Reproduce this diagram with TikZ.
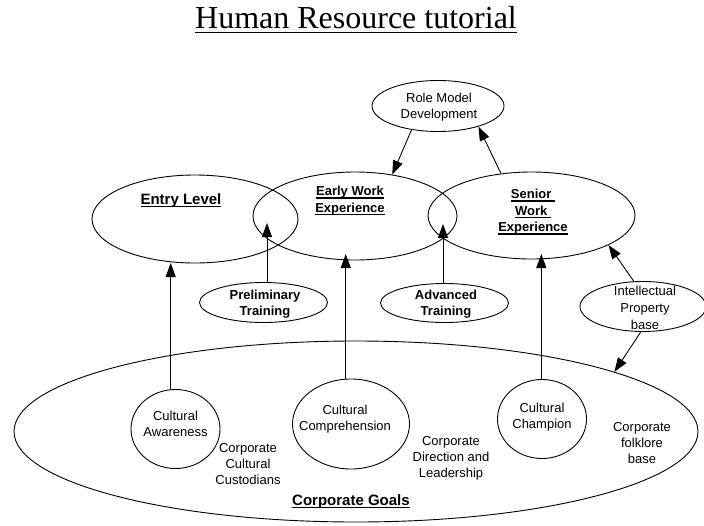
\documentclass[tikz,border=0pt]{standalone}
\usepackage{fontspec}
\setmainfont{Liberation Serif}
\newfontfamily\arial{Liberation Sans}
\usetikzlibrary{shapes.geometric,arrows.meta}
% thick underline drawn under a box of text
\newcommand\undl[2][-3pt]{\leavevmode\setbox0\hbox{#2}\rlap{\rule[#1]{\wd0}{1.5pt}}\box0}
\begin{document}
\begin{tikzpicture}[x=1pt,y=-1pt,
  oval/.style={draw,ellipse,line width=0.9pt,inner sep=0pt},
  lbl/.style={font=\arial\fontsize{13}{16}\selectfont,align=center,inner sep=0pt},
  blbl/.style={font=\arial\bfseries\fontsize{13}{16.5}\selectfont,align=center,inner sep=0pt},
  arr/.style={-{Triangle[length=14pt,width=10pt]},line width=0.9pt}]
\useasboundingbox (0,0) rectangle (704,525);

% title
\node[anchor=base,inner sep=0pt,font=\fontsize{32}{38}\selectfont] (title) at (356,28)
  {\undl[-5pt]{Human Resource tutorial}};

% outer goal ellipse and its regions
\node[oval,minimum width=684pt,minimum height=181pt] (goals) at (356,431.5) {};
\node[anchor=base,inner sep=0pt,font=\arial\bfseries\fontsize{15}{18}\selectfont] (goalst) at (351,505) {\undl{Corporate Goals}};

% career stages
\node[oval,minimum width=206pt,minimum height=88pt] (entry) at (195,219) {};
\node[oval,minimum width=204pt,minimum height=88pt] (early) at (355,216) {};
\node[oval,minimum width=207pt,minimum height=87pt] (senior) at (531.5,215.5) {};
\node[anchor=base,inner sep=0pt,font=\arial\bfseries\fontsize{15}{18}\selectfont] (entryt) at (181,204) {\undl{Entry Level}};
\node[blbl] (earlyt) at (350,201) {\undl{Early Work}\\\undl{Experience}};
\node[blbl] (seniort) at (533,212) {\undl{Senior }\\\undl{Work }\\\undl{Experience}};

% role model
\node[oval,minimum width=132pt,minimum height=51pt] (role) at (438,106) {};
\node[lbl] (rolet) at (439,107) {Role Model\\Development};

% training
\node[oval,minimum width=128pt,minimum height=40pt] (pre) at (263.5,302.5) {};
\node[blbl] (pret) at (265,304) {Preliminary\\Training};
\node[oval,minimum width=128pt,minimum height=39pt] (adv) at (444.5,303) {};
\node[blbl] (advt) at (446,304) {Advanced\\Training};

% intellectual property
\node[oval,minimum width=126pt,minimum height=50pt] (ip) at (643,306.5) {};
\node[font=\arial\fontsize{13}{17}\selectfont,align=center,inner sep=0pt] (ipt) at (645,308) {Intellectual\\Property\\base};

% cultural roles
\node[oval,minimum width=89pt,minimum height=79pt] (ca) at (175.5,429) {};
\node[lbl] (cat) at (175.5,424) {Cultural\\Awareness};
\node[oval,minimum width=117pt,minimum height=90pt] (cc) at (351,424) {};
\node[lbl] (cct) at (345,419) {Cultural\\Comprehension};
\node[oval,minimum width=89pt,minimum height=79pt] (cch) at (542,419) {};
\node[lbl] (ccht) at (542,417) {Cultural\\Champion};

% free texts
\node[lbl] (cust) at (248,464) {Corporate\\Cultural\\Custodians};
\node[lbl] (dir) at (451,458) {Corporate\\Direction and\\Leadership};
\node[lbl] (folk) at (642,443) {Corporate\\folklore\\base};

% arrow tips on the stage ellipses
\coordinate (tipA) at (170.7,263);
\coordinate (tipB) at (267,223);
\coordinate (tipC) at (345.7,254);
\coordinate (tipD) at (443,224);
\coordinate (tipE) at (541.3,254);

\draw[arr] (ca.north -| tipA) -- (tipA);
\draw[arr] (pre.north -| tipB) -- (tipB);
\draw[arr] (cc.north -| tipC) -- (tipC);
\draw[arr] (adv.north -| tipD) -- (tipD);
\draw[arr] (cch.north -| tipE) -- (tipE);

\draw[arr] (role.222) -- (early.48);
\draw[arr] (senior.126) -- (role.333);
\draw[arr] (ip.110) -- (senior.339);
\draw[arr] (ip.265) -- (goals.13.5);
\end{tikzpicture}
\end{document}
